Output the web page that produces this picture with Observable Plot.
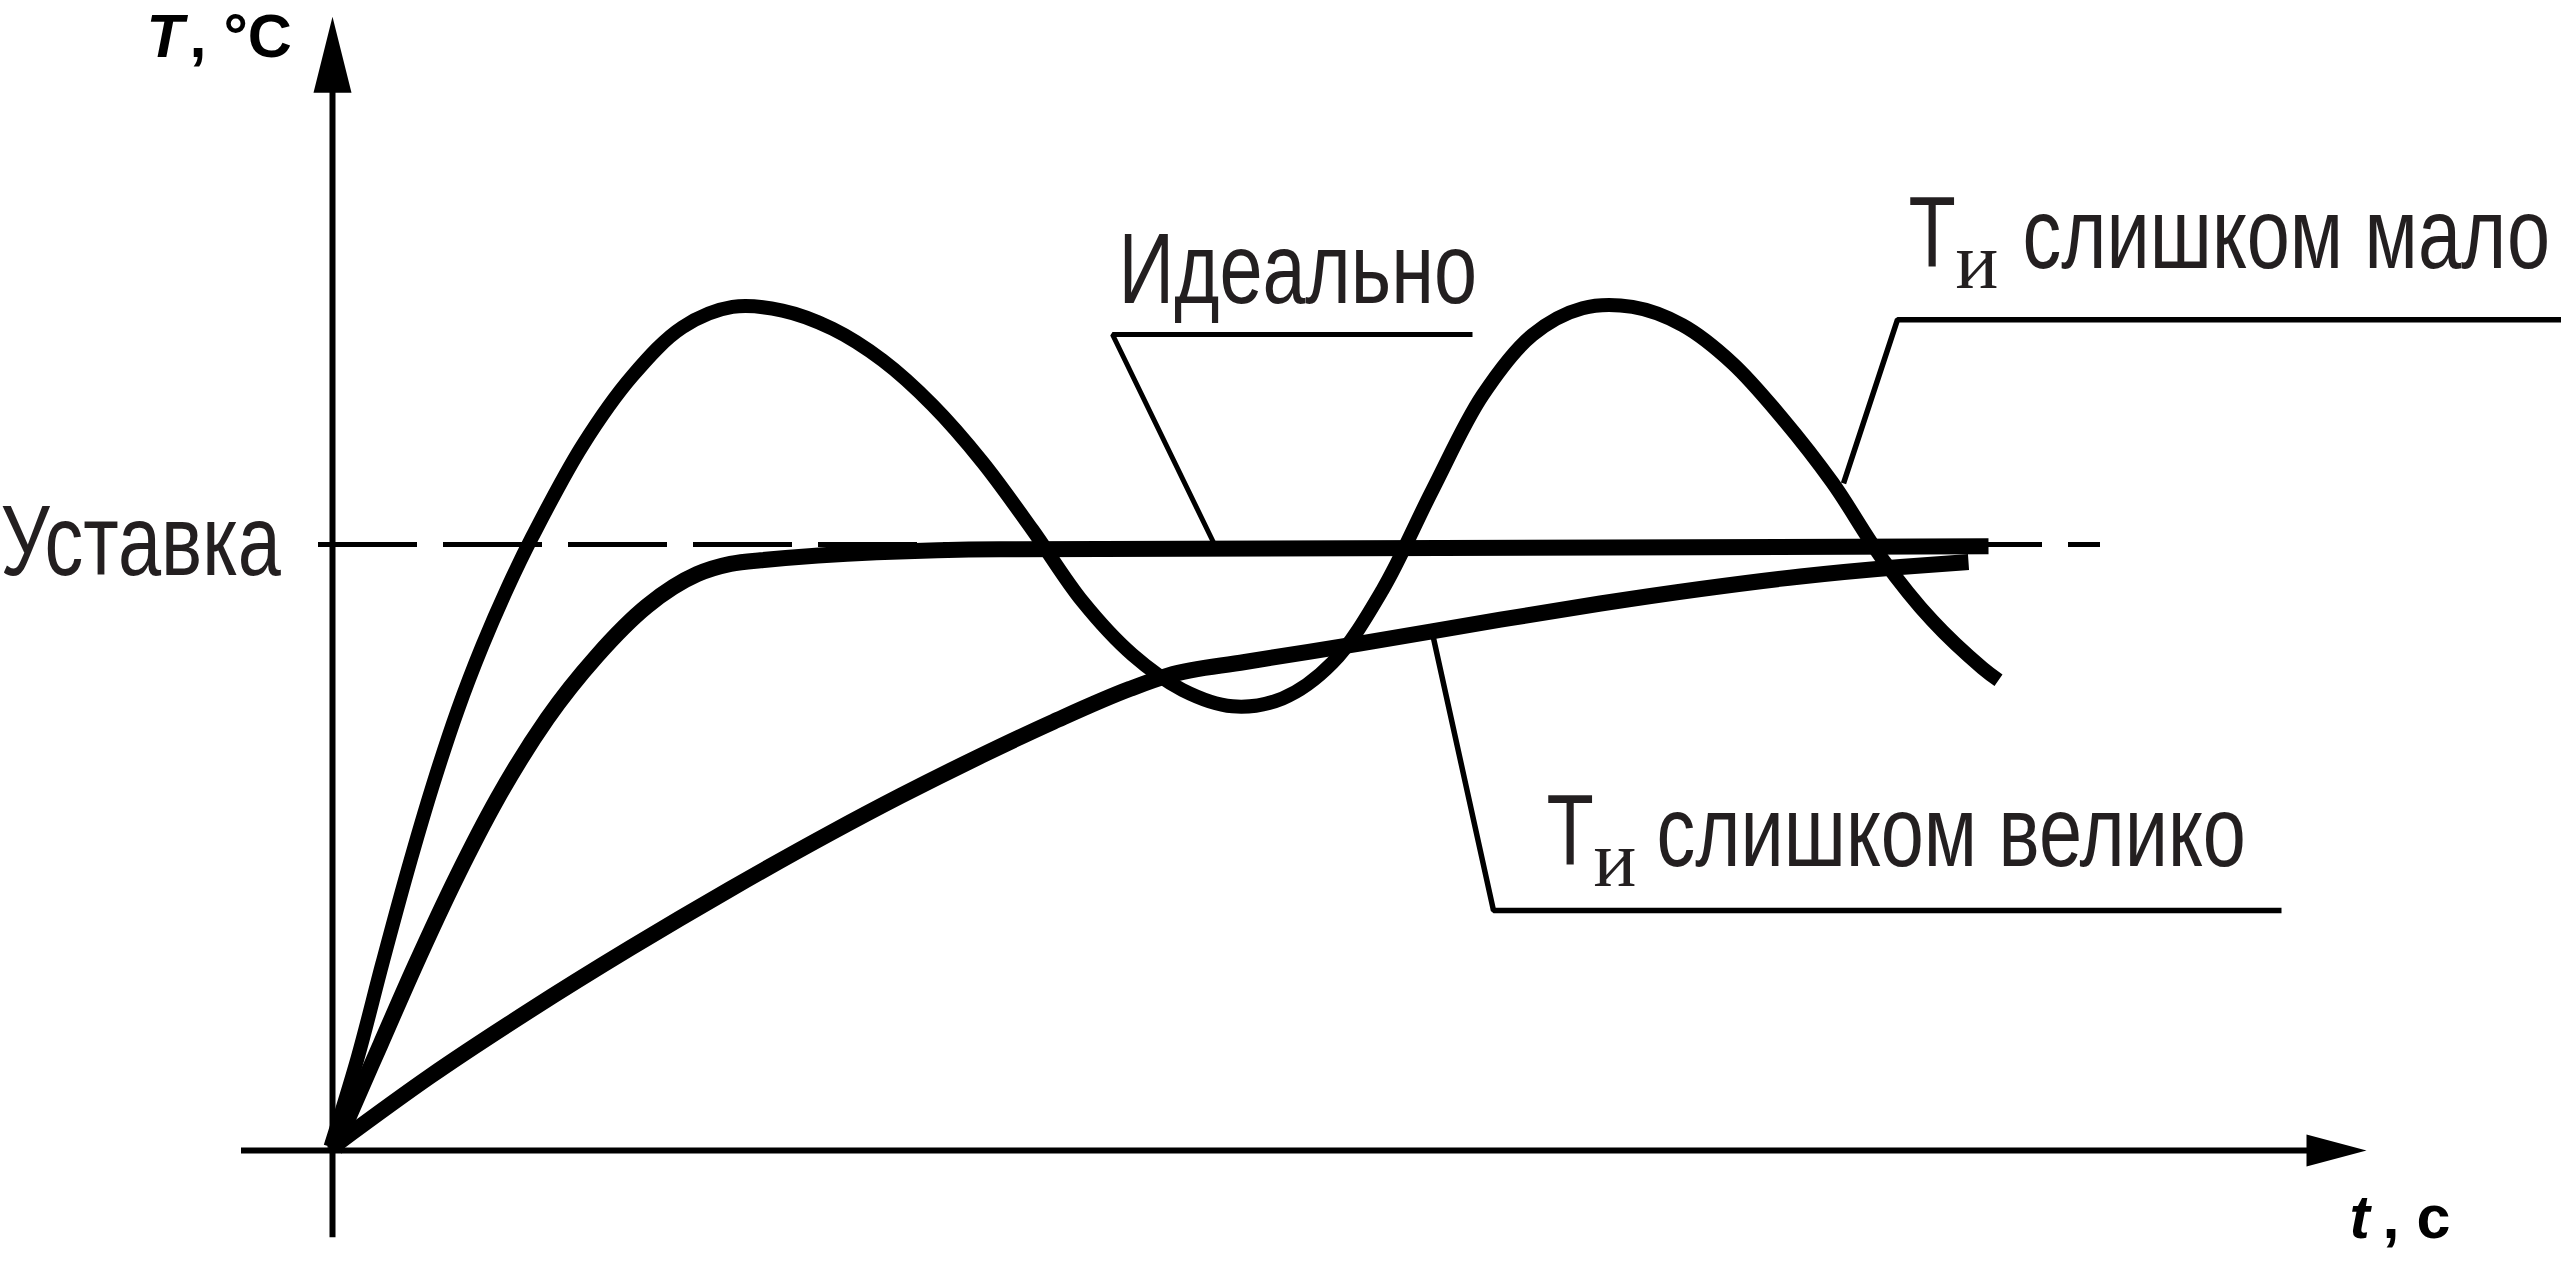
<!DOCTYPE html>
<html>
<head>
<meta charset="utf-8">
<script src="https://cdn.jsdelivr.net/npm/d3@7"></script>
<script src="https://cdn.jsdelivr.net/npm/@observablehq/plot@0.6"></script>
<style>
  html, body { margin: 0; padding: 0; background: #ffffff; }
  #chart svg { display: block; }
</style>
</head>
<body>
<div id="chart"></div>
<script>
// ---- Curve: Ти слишком мало (oscillating) ----
const smallTime = [-0.1, 1.25, 2.5, 3.75, 5.0, 6.25, 7.5, 8.75, 10.0, 12.5, 15.0, 17.5, 20.0, 22.5, 25.0, 27.5, 30.0, 32.5, 35.0, 37.5, 40.0, 42.5, 45.0, 47.5, 50.0, 52.5, 55.0, 57.5, 60.0, 62.5, 65.0, 67.5, 70.0, 72.5, 75.0, 77.5, 80.0, 82.5, 83.3];
const smallTemp = [0.6, 15.2, 30.95, 46.1, 60.1, 72.6, 83.35, 92.85, 101.35, 116.35, 127.85, 135.85, 139.2, 138.6, 135.6, 130.4, 123.0, 113.6, 102.4, 90.6, 81.8, 76.0, 73.3, 74.6, 80.5, 92.5, 109.0, 124.6, 134.6, 139.0, 139.2, 136.2, 129.9, 120.8, 110.2, 97.6, 87.4, 79.6, 77.6];

// ---- Curve: Идеально ----
const idealTime = [0.1, 0.9, 2.4, 4.07, 6.23, 8.23, 10.73, 13.23, 15.73, 18.23, 19.9, 21.4, 33.4, 82.8];
const idealTemp = [0.0, 6.2, 17.5, 30.05, 45.3, 57.98, 71.25, 81.65, 89.85, 95.1, 96.8, 97.4, 99.2, 99.7];

// ---- Curve: Ти слишком велико ----
const largeTime = [0.25, 4.9, 9.9, 14.9, 19.9, 24.9, 28.4, 32.225, 36.05, 39.88, 41.8, 45.62, 51.35, 58.4, 63.4, 68.4, 73.4, 78.4, 81.8];
const largeTemp = [1.2, 12.29, 23.18, 33.42, 43.15, 52.39, 58.51, 64.82, 70.76, 76.19, 78.4, 80.61, 83.63, 87.59, 90.26, 92.66, 94.72, 96.29, 97.11];

// ---- Setpoint (Уставка) ----
const setpoint = 100;
const setpointSpan = [-0.7, 88.4];

// ---- Axes ----
const timeAxisSpan = [-4.55, 99.0];
const tempAxisSpan = [-14.4, 180];
const timeArrowTip = 101.7;
const tempArrowTip = 187.1;

// ---- Leader lines ----
const idealLeaderTime = [44.1, 39.0, 57.0];
const idealLeaderTemp = [100, 134.65, 134.65];
const smallLeaderTime = [75.55, 78.25, 111.45];
const smallLeaderTemp = [110.1, 137.1, 137.1];
const largeLeaderTime = [55.0, 58.05, 97.45];
const largeLeaderTemp = [85.3, 39.6, 39.6];

// ---- Labels ----
const labelTexts = ["Уставка", "Идеально", "слишком мало", "слишком велико"];
const labelTime = [-16.6, 39.3, 84.5, 66.2];
const labelTemp = [94.9, 139.8, 145.7, 47.0];
const tiTexts = ["Т", "Т"];
const tiTime = [78.8, 60.7];
const tiTemp = [145.9, 47.2];
const subTexts = ["и", "и"];
const subTime = [81.15, 63.05];
const subTemp = [142.4, 43.7];
const axisSymbols = ["T", "t"];
const axisSymbolTime = [-9.3, 100.85];
const axisSymbolTemp = [180.5, -14.5];
const axisUnits = [", °С", ", с"];
const axisUnitTime = [-7.15, 102.5];
const axisUnitTemp = [180.5, -14.5];

// ---- build tables ----
const pts = (ts, vs) => ts.map((t, i) => ({t, T: vs[i]}));
const lbl = (txt, ts, vs) => txt.map((s, i) => ({s, t: ts[i], T: vs[i]}));

const smallData = pts(smallTime, smallTemp);
const idealData = pts(idealTime, idealTemp);
const largeData = pts(largeTime, largeTemp);

const upArrow = {draw(ctx) { ctx.moveTo(0, 0); ctx.lineTo(-19, 76); ctx.lineTo(19, 76); ctx.closePath(); }};
const rightArrow = {draw(ctx) { ctx.moveTo(0, 0); ctx.lineTo(-60, -16); ctx.lineTo(-60, 16); ctx.closePath(); }};

const textColor = "#231f20";
const sans = "Liberation Sans, Arial, sans-serif";

const chart = Plot.plot({
  width: 2561,
  height: 1265,
  margin: 0,
  x: {domain: [-16.6, 111.45], axis: null},
  y: {domain: [-18.98, 189.77], axis: null},
  style: {background: "#ffffff", overflow: "visible"},
  marks: [
    // axes
    Plot.ruleY([0], {x1: timeAxisSpan[0], x2: timeAxisSpan[1], stroke: "black", strokeWidth: 6}),
    Plot.ruleX([0], {y1: tempAxisSpan[0], y2: tempAxisSpan[1], stroke: "black", strokeWidth: 6}),
    Plot.dot([{t: 0, T: tempArrowTip}], {x: "t", y: "T", symbol: upArrow, r: 10, fill: "black", stroke: "none"}),
    Plot.dot([{t: timeArrowTip, T: 0}], {x: "t", y: "T", symbol: rightArrow, r: 10, fill: "black", stroke: "none"}),
    // setpoint
    Plot.ruleY([setpoint], {x1: setpointSpan[0], x2: setpointSpan[1], stroke: "black", strokeWidth: 5, strokeDasharray: "99,26"}),
    // leader lines
    Plot.line(pts(idealLeaderTime, idealLeaderTemp), {x: "t", y: "T", stroke: "black", strokeWidth: 5, strokeLinejoin: "miter", strokeLinecap: "butt"}),
    Plot.line(pts(smallLeaderTime, smallLeaderTemp), {x: "t", y: "T", stroke: "black", strokeWidth: 5.5, strokeLinejoin: "miter", strokeLinecap: "butt"}),
    Plot.line(pts(largeLeaderTime, largeLeaderTemp), {x: "t", y: "T", stroke: "black", strokeWidth: 5.5, strokeLinejoin: "miter", strokeLinecap: "butt"}),
    // curves
    Plot.line(largeData, {x: "t", y: "T", curve: "monotone-x", stroke: "black", strokeWidth: 16, strokeLinecap: "butt"}),
    Plot.line(idealData, {x: "t", y: "T", curve: "monotone-x", stroke: "black", strokeWidth: 16, strokeLinecap: "butt"}),
    Plot.line(smallData, {x: "t", y: "T", curve: "catmull-rom", stroke: "black", strokeWidth: 14, strokeLinecap: "butt"}),
    // labels
    Plot.text(lbl(labelTexts, labelTime, labelTemp), {x: "t", y: "T", text: "s", textAnchor: "start", lineAnchor: "bottom", fontSize: 100, fontFamily: sans, fill: textColor, ariaDescription: "condensed"}),
    Plot.text(lbl(tiTexts, tiTime, tiTemp), {x: "t", y: "T", text: "s", textAnchor: "start", lineAnchor: "bottom", fontSize: 100, fontFamily: sans, fill: textColor, ariaDescription: "condensed"}),
    Plot.text(lbl(subTexts, subTime, subTemp), {x: "t", y: "T", text: "s", textAnchor: "start", lineAnchor: "bottom", fontSize: 80, fontFamily: "Liberation Serif, Times New Roman, serif", fill: textColor}),
    Plot.text(lbl(axisSymbols, axisSymbolTime, axisSymbolTemp), {x: "t", y: "T", text: "s", textAnchor: "start", lineAnchor: "bottom", fontSize: 61, fontWeight: "bold", fontStyle: "italic", fontFamily: sans, fill: "black"}),
    Plot.text(lbl(axisUnits, axisUnitTime, axisUnitTemp), {x: "t", y: "T", text: "s", textAnchor: "start", lineAnchor: "bottom", fontSize: 61, fontWeight: "bold", fontFamily: sans, fill: "black"})
  ]
});

// horizontally condense the narrow-typeface labels around their anchor
const squeeze = 0.775;
d3.select(chart).selectAll('g[aria-description="condensed"] text').each(function () {
  const el = d3.select(this);
  const tr = el.attr("transform");
  if (tr) {
    el.attr("transform", tr + ` scale(${squeeze},1)`);
  } else {
    const x = +el.attr("x") || 0, y = +el.attr("y") || 0;
    el.attr("x", null).attr("y", null).attr("transform", `translate(${x},${y}) scale(${squeeze},1)`);
  }
});

document.getElementById("chart").appendChild(chart);
</script>
</body>
</html>
